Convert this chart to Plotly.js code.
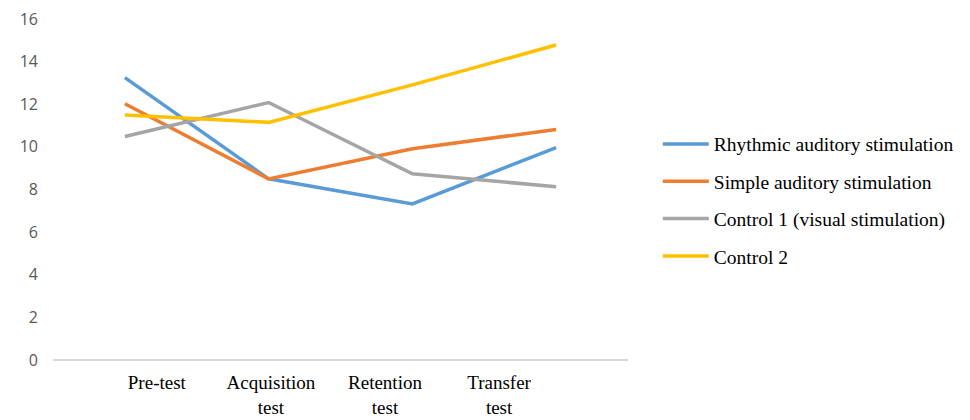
<!DOCTYPE html>
<html><head><meta charset="utf-8">
<script src="https://cdn.plot.ly/plotly-3.0.1.min.js"></script>
<style>html,body{margin:0;padding:0;background:#fff}#chart{width:970px;height:420px}</style>
</head><body><div id="chart"></div>
<script>
const categories = ["Pre-test", "Acquisition test", "Retention test", "Transfer test"];
const tickLabels = ["Pre-test", "Acquisition<br>test", "Retention<br>test", "Transfer<br>test"];
const seriesNames = ["Rhythmic auditory stimulation", "Simple auditory stimulation", "Control 1 (visual stimulation)", "Control 2"];
const rhythmic = [13.25, 8.5, 7.32, 9.97];
const simple = [12.02, 8.5, 9.91, 10.82];
const control1 = [10.49, 12.08, 8.74, 8.13];
const control2 = [11.5, 11.15, 12.91, 14.78];
const colors = ["#5B9BD5", "#ED7D31", "#A5A5A5", "#FFC000"];

const values = [rhythmic, simple, control1, control2];
const idx = categories.map((c, i) => i);
const traces = values.map((v, k) => ({
  type: "scatter", mode: "lines", x: idx, y: v, name: seriesNames[k],
  legendgroup: "g" + k,
  line: {color: colors[k], width: 3.5}, hoverinfo: "skip"
}));
// carrier for the category tick labels (no visible marks)
traces.push({type: "scatter", mode: "lines", x: idx, y: idx.map(() => null),
  xaxis: "x2", yaxis: "y", showlegend: false, hoverinfo: "skip"});

const layout = {
  width: 970, height: 420,
  margin: {l: 53, r: 341, t: 19, b: 60},
  paper_bgcolor: "#fff", plot_bgcolor: "#fff",
  showlegend: true,
  legend: {x: 1.05, y: 0.69, xanchor: "left", yanchor: "top", traceorder: "grouped",
           tracegroupgap: 9, itemwidth: 46,
           font: {family: "Liberation Serif", size: 19.5, color: "#000"}},
  xaxis: {range: [-0.5, 3.5], showticklabels: false, showgrid: false, zeroline: false,
          showline: false, ticks: ""},
  xaxis2: {overlaying: "x", anchor: "y", range: [-0.91, 4.13], tickmode: "array",
           tickvals: idx, ticktext: tickLabels, showgrid: false, zeroline: false,
           showline: false, ticks: "", side: "bottom", ticklabelstandoff: 9,
           tickfont: {family: "Liberation Serif", size: 19, color: "#000"}},
  yaxis: {range: [0, 16], dtick: 2, showgrid: false, zeroline: true, zerolinecolor: "#D9D9D9",
          zerolinewidth: 1.5, showline: false, ticks: "", ticklabelstandoff: 14,
          tickfont: {family: "Open Sans", size: 16, color: "#595959"}}
};
Plotly.newPlot("chart", traces, layout, {displayModeBar: false, staticPlot: true});
</script></body></html>
